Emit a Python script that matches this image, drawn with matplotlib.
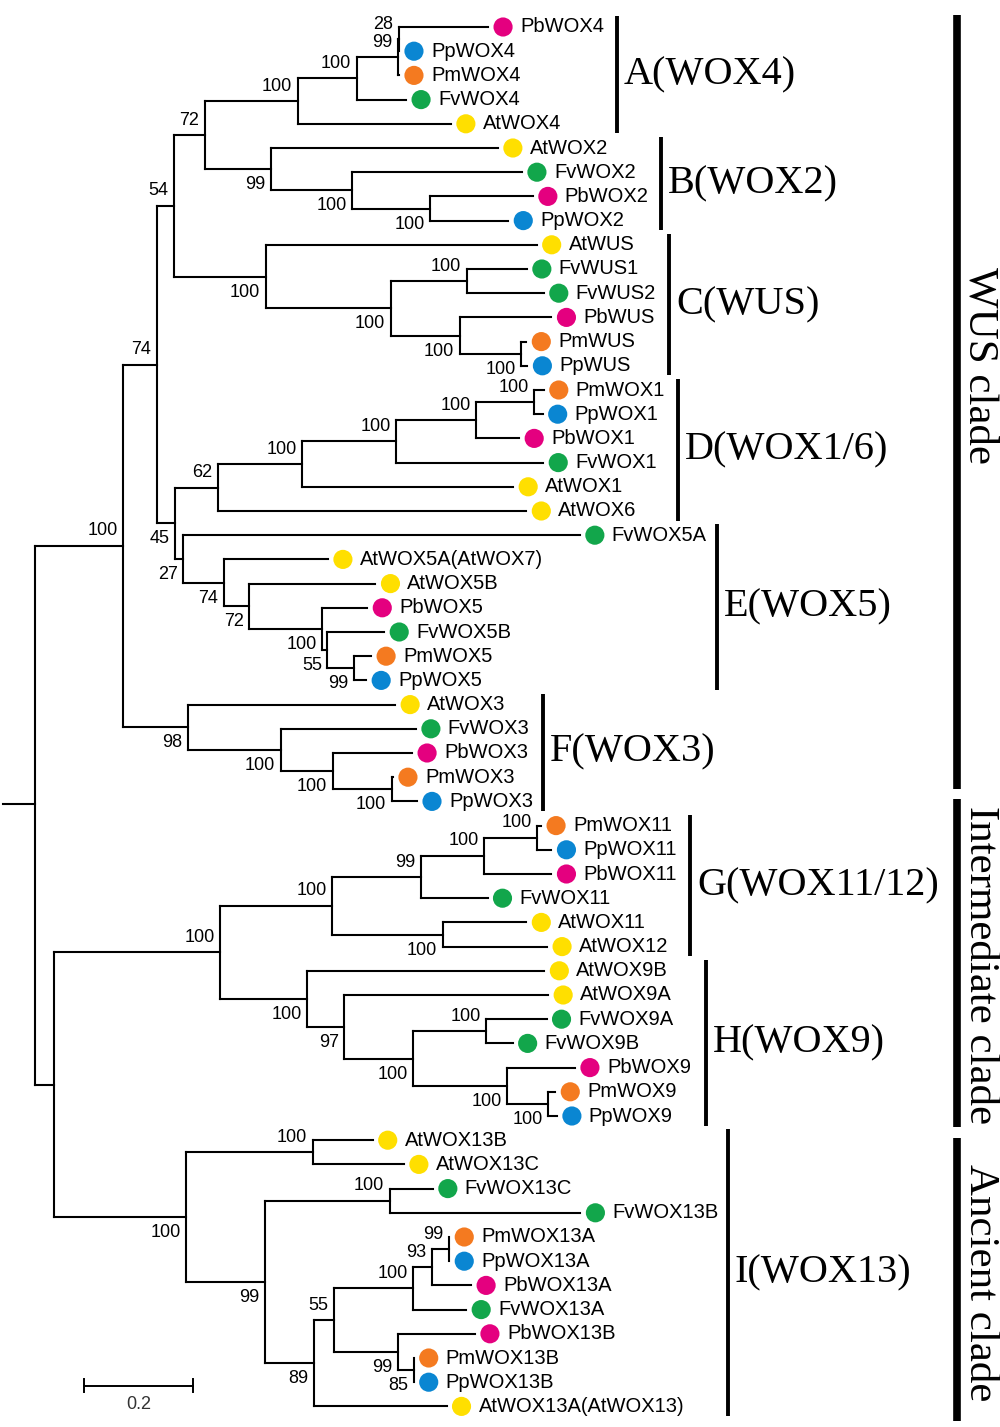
import re

import matplotlib

matplotlib.use("Agg")
import matplotlib.pyplot as plt
from matplotlib.collections import LineCollection
from matplotlib.transforms import offset_copy

# WOX gene tree in Newick pieces (branch lengths, bootstrap as internal labels)
CLADE_A = "((((PbWOX4:0.163,PpWOX4:0.000)28:0.002,PmWOX4:0.002)99:0.075,FvWOX4:0.090)100:0.108,AtWOX4:0.280)100"
CLADE_B = "(AtWOX2:0.415,(FvWOX2:0.311,(PbWOX2:0.188,PpWOX2:0.143)100:0.143)100:0.148)99"
CLADE_C = ("(AtWUS:0.496,((FvWUS1:0.110,FvWUS2:0.141)100:0.139,"
           "(PbWUS:0.168,(PmWUS:0.009,PpWUS:0.011)100:0.113)100:0.126)100:0.229)100")
CLADE_D = ("(((((PmWOX1:0.018,PpWOX1:0.016)100:0.106,PbWOX1:0.079)100:0.146,FvWOX1:0.269)100:0.172,"
           "AtWOX1:0.386)100:0.154,AtWOX6:0.564)62")
CLADE_E = ("(FvWOX5A:0.726,('AtWOX5A(AtWOX7)':0.191,(AtWOX5B:0.231,(PbWOX5:0.082,(FvWOX5B:0.104,"
           "(PmWOX5:0.031,PpWOX5:0.022)99:0.049)55:0.009)100:0.134)72:0.047)74:0.074)27")
CLADE_F = "(AtWOX3:0.379,(FvWOX3:0.247,(PbWOX3:0.145,(PmWOX3:0.002,PpWOX3:0.046)100:0.108)100:0.095)100:0.170)98"
CLADE_G = ("((((PmWOX11:0.007,PpWOX11:0.026)100:0.097,PbWOX11:0.123)100:0.115,FvWOX11:0.121)99:0.163,"
           "(AtWOX11:0.153,AtWOX12:0.191)100:0.202)100")
CLADE_H = ("(AtWOX9B:0.434,(AtWOX9A:0.373,((FvWOX9A:0.110,FvWOX9B:0.048)100:0.134,"
           "(PbWOX9:0.124,(PmWOX9:0.013,PpWOX9:0.016)100:0.075)100:0.172)100:0.126)97:0.068)100")
CLADE_I = ("((AtWOX13B:0.110,AtWOX13C:0.167)100:0.231,((FvWOX13C:0.079,FvWOX13B:0.349)100:0.229,"
           "(((((PmWOX13A:0.000,PpWOX13A:0.000)99:0.031,PbWOX13A:0.071)93:0.035,FvWOX13A:0.097)100:0.145,"
           "(PbWOX13B:0.141,(PmWOX13B:0.000,PpWOX13B:0.000)85:0.029)99:0.117)55:0.037,"
           "'AtWOX13A(AtWOX13)':0.243)89:0.090)99:0.143)100")

NODE_72 = f"({CLADE_A}:0.170,{CLADE_B}:0.121)72"
NODE_54 = f"({NODE_72}:0.057,{CLADE_C}:0.168)54"
NODE_45 = f"({CLADE_D}:0.079,{CLADE_E}:0.015)45"
NODE_74 = f"({NODE_54}:0.031,{NODE_45}:0.033)74"
WUS_CLADE = f"({NODE_74}:0.062,{CLADE_F}:0.119)100"
NODE_GH = f"({CLADE_G}:0.205,{CLADE_H}:0.159)100"
BASAL = f"({NODE_GH}:0.304,{CLADE_I}:0.242)"
NEWICK = f"({WUS_CLADE}:0.161,{BASAL}:0.035);"

SPECIES = ["Pb", "Pp", "Pm", "Fv", "At"]
SPECIES_COLORS = ["#e4007f", "#0a86d2", "#f47a20", "#12a64b", "#ffdf00"]

SUBCLADE_NAMES = ["A(WOX4)", "B(WOX2)", "C(WUS)", "D(WOX1/6)", "E(WOX5)", "F(WOX3)", "G(WOX11/12)", "H(WOX9)", "I(WOX13)"]
SUBCLADE_FIRST = [0, 5, 9, 15, 21, 28, 33, 39, 46]
SUBCLADE_LAST = [4, 8, 14, 20, 27, 32, 38, 45, 57]

MAJOR_NAMES = ["WUS clade", "Intermediate clade", "Ancient clade"]

SCALE_LEN = 0.2

# layout (pixel positions of the reference picture)
PX_PER_UNIT = 546.5
ROOT_PX = 35
LEAF0_PX = 27
LEAF_STEP_PX = 24.2
SUBCLADE_BAR_PX = [617, 661, 669, 678, 717, 543, 690, 706, 728]
MAJOR_BAR_PX = 957
MAJOR_SPAN = [(-0.5, 31.5), (31.9, 45.45), (45.9, 57.6)]
MAJOR_TEXT_Y = [13.97, 38.76, 51.9]


def parse_newick(text):
    s = re.sub(r"\s+", "", text)
    pos = 0

    def parse_node():
        nonlocal pos
        node = {"children": [], "name": None, "length": 0.0, "support": None}
        if s[pos] == "(":
            pos += 1
            while True:
                node["children"].append(parse_node())
                if s[pos] == ",":
                    pos += 1
                    continue
                pos += 1
                break
        if s[pos] == "'":
            end = s.index("'", pos + 1)
            label = s[pos + 1:end]
            pos = end + 1
        else:
            label = re.match(r"[^:,();]*", s[pos:]).group(0)
            pos += len(label)
        if s[pos] == ":":
            m = re.match(r":([0-9.eE+-]+)", s[pos:])
            node["length"] = float(m.group(1))
            pos += len(m.group(0))
        if node["children"]:
            node["support"] = int(label) if label else None
        else:
            node["name"] = label
        return node

    return parse_node()


def layout(node, x0, leaves):
    node["x"] = x0 + node["length"]
    if not node["children"]:
        node["y"] = float(len(leaves))
        leaves.append(node)
        return
    for child in node["children"]:
        layout(child, node["x"], leaves)
    node["y"] = 0.5 * (node["children"][0]["y"] + node["children"][-1]["y"])


def collect(node, segments, supports):
    kids = node["children"]
    if kids:
        segments.append([(node["x"], kids[0]["y"]), (node["x"], kids[-1]["y"])])
    for i, child in enumerate(kids):
        segments.append([(node["x"], child["y"]), (child["x"], child["y"])])
        if child["support"] is not None:
            supports.append((child["x"], child["y"], child["support"], i == 0))
        collect(child, segments, supports)


root = parse_newick(NEWICK)
leaves = []
layout(root, 0.0, leaves)
segments = []
supports = []
collect(root, segments, supports)
segments.append([(-32 / PX_PER_UNIT, root["y"] - 0.45), (0.0, root["y"] - 0.45)])

fig = plt.figure(figsize=(10, 14.27), dpi=100)
ax = fig.add_axes([0, 0, 1, 1])
ax.set_xlim(-ROOT_PX / PX_PER_UNIT, (1000 - ROOT_PX) / PX_PER_UNIT)
ax.set_ylim((1427 - LEAF0_PX) / LEAF_STEP_PX, -LEAF0_PX / LEAF_STEP_PX)
ax.axis("off")

ax.add_collection(LineCollection(segments, colors="black", linewidths=1.5, capstyle="projecting"))

sans = ["Liberation Sans", "DejaVu Sans"]
serif = ["Liberation Serif", "DejaVu Serif"]

for x, y, value, upper in supports:
    ax.annotate(str(value), (x, y), xytext=(-4.0, 10.8 if upper else -11.2), textcoords="offset points",
                ha="right", va="center", fontsize=13, family=sans)

dot_trans = offset_copy(ax.transData, fig=fig, x=10.8, y=0, units="points")
text_trans = offset_copy(ax.transData, fig=fig, x=23.0, y=0, units="points")
color_of = dict(zip(SPECIES, SPECIES_COLORS))
for leaf in leaves:
    color = color_of[leaf["name"][:2]]
    ax.scatter([leaf["x"]], [leaf["y"]], s=190, color=color, edgecolors="none", transform=dot_trans, zorder=3)
    ax.text(leaf["x"], leaf["y"], leaf["name"], transform=text_trans, ha="left", va="center",
            fontsize=14.5, family=sans)

for name, first, last, bar_px in zip(SUBCLADE_NAMES, SUBCLADE_FIRST, SUBCLADE_LAST, SUBCLADE_BAR_PX):
    bx = (bar_px - ROOT_PX) / PX_PER_UNIT
    y0, y1 = first - 0.45, last + 0.4
    ax.plot([bx, bx], [y0, y1], color="black", lw=2.8, solid_capstyle="butt")
    ax.text(bx + 7 / PX_PER_UNIT, 0.5 * (y0 + y1), name, ha="left", va="center", fontsize=29, family=serif)

mx = (MAJOR_BAR_PX - ROOT_PX) / PX_PER_UNIT
for name, (y0, y1), ty in zip(MAJOR_NAMES, MAJOR_SPAN, MAJOR_TEXT_Y):
    ax.plot([mx, mx], [y0, y1], color="black", lw=5.5, solid_capstyle="butt")
    ax.text(mx + 23 / PX_PER_UNIT, ty, name, rotation=-90, ha="center", va="center", fontsize=31, family=serif)

sx0 = (84 - ROOT_PX) / PX_PER_UNIT
sy = (1385.5 - LEAF0_PX) / LEAF_STEP_PX
tick = 6.5 / LEAF_STEP_PX
ax.plot([sx0, sx0 + SCALE_LEN], [sy, sy], color="black", lw=1.4)
ax.plot([sx0, sx0], [sy - tick, sy + tick], color="black", lw=1.4)
ax.plot([sx0 + SCALE_LEN, sx0 + SCALE_LEN], [sy - tick, sy + tick], color="black", lw=1.4)
ax.text(sx0 + SCALE_LEN / 2, sy + 0.8, f"{SCALE_LEN:g}", ha="center", va="center", fontsize=13,
        family=sans, color="#333333")

fig.savefig("out.png", dpi=100)
